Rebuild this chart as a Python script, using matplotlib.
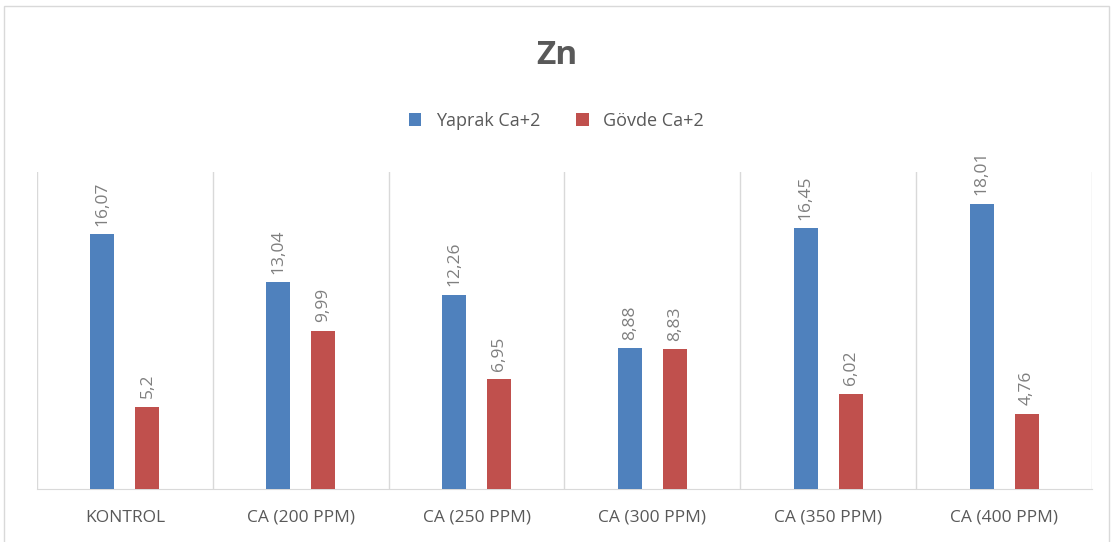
import matplotlib
matplotlib.use("Agg")
import matplotlib.pyplot as plt
import numpy as np
from matplotlib.patches import Rectangle

categories = ["KONTROL", "CA (200 PPM)", "CA (250 PPM)", "CA (300 PPM)", "CA (350 PPM)", "CA (400 PPM)"]
yaprak = [16.07, 13.04, 12.26, 8.88, 16.45, 18.01]
govde = [5.2, 9.99, 6.95, 8.83, 6.02, 4.76]
yaprak_labels = ["16,07", "13,04", "12,26", "8,88", "16,45", "18,01"]
govde_labels = ["5,2", "9,99", "6,95", "8,83", "6,02", "4,76"]

plt.rcParams['font.family'] = ['Open Sans', 'DejaVu Sans']

W, H = 1113, 542
fig = plt.figure(figsize=(W/100, H/100), dpi=100)
fig.patches.append(Rectangle((4/W, -0.01), (1109-4)/W, 1 - 6/H + 0.01, transform=fig.transFigure,
                             fill=False, edgecolor='#d9d9d9', linewidth=1))

ax = fig.add_axes([37/W, 1-489/H, (1092-37)/W, (489-172)/H])
x = np.arange(len(categories))
bw = 0.137
off = 0.128
c_blue = '#4F81BD'
c_red = '#C0504D'
b1 = ax.bar(x - off, yaprak, bw, color=c_blue, label='Yaprak Ca+2', zorder=3)
b2 = ax.bar(x + off, govde, bw, color=c_red, label='Gövde Ca+2', zorder=3)

for bars, labs in ((b1, yaprak_labels), (b2, govde_labels)):
    for r, lab in zip(bars, labs):
        ax.annotate(lab, (r.get_x() + r.get_width()/2, r.get_height()), xytext=(0, 6),
                    textcoords='offset points', rotation=90, ha='center', va='bottom',
                    color='#7f7f7f', fontsize=12.5)

ax.set_xlim(-0.5, len(categories) - 0.5)
ax.set_ylim(0, 20)
for b in np.arange(-0.5, len(categories) + 0.5, 1):
    ax.axvline(b, color='#d9d9d9', linewidth=1, zorder=1)
for s in ['top', 'right', 'left']:
    ax.spines[s].set_visible(False)
ax.spines['bottom'].set_color('#d9d9d9')
ax.set_yticks([])
ax.set_xticks(x)
ax.set_xticklabels(categories, color='#595959', fontsize=12.5)
ax.tick_params(axis='x', length=0, pad=15)

fig.text(0.5, 1 - 55/H, "Zn", ha='center', va='center', fontsize=24, fontweight='bold', color='#595959')
fig.legend(handles=[b1, b2], loc='center', bbox_to_anchor=(0.5, 1 - 121/H), ncol=2, frameon=False,
           fontsize=13, labelcolor='#595959', handlelength=0.7, handleheight=0.7, columnspacing=2.0,
           handletextpad=0.8)

fig.savefig("out.png", dpi=100)
